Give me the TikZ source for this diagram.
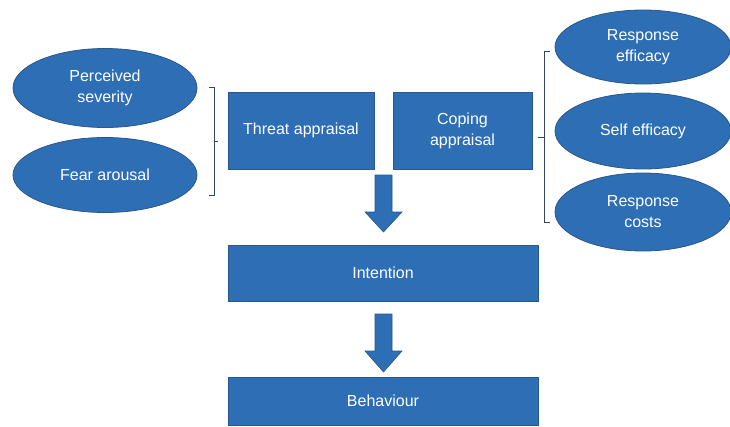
\documentclass[tikz,border=0pt]{standalone}
\usepackage{fontspec}
\setmainfont{Liberation Sans}
\usetikzlibrary{shapes.geometric}
\definecolor{boxblue}{RGB}{46,110,180}
\definecolor{edgeblue}{RGB}{40,88,140}
\definecolor{brk}{RGB}{50,70,100}
\begin{document}
\begin{tikzpicture}[x=1pt,y=-1pt,
  every node/.style={font=\fontsize{16}{21}\selectfont, text=white, align=center, inner sep=0pt},
  blk/.style={rectangle, fill=boxblue, draw=edgeblue, line width=0.8pt},
  ell/.style={ellipse, fill=boxblue, draw=edgeblue, line width=0.8pt},
  brace/.style={draw=brk, line width=0.9pt},
  barrow/.style={fill=boxblue, draw=edgeblue, line width=0.6pt}]
\useasboundingbox (0,0) rectangle (730,426);
% left ellipses
\node[ell, minimum width=184pt, minimum height=79pt] (sev) at (105,88) {Perceived\\severity};
\node[ell, minimum width=184pt, minimum height=75pt] (fear) at (105,175) {Fear arousal};
% right ellipses
\node[ell, minimum width=176pt, minimum height=74pt] (reff) at (643,47) {Response\\efficacy};
\node[ell, minimum width=176pt, minimum height=76pt] (self) at (643,131) {Self efficacy};
\node[ell, minimum width=176pt, minimum height=78pt] (rcost) at (643,212) {Response\\costs};
% boxes
\node[blk, minimum width=146pt, minimum height=77pt] (threat) at (301,130.5) {Threat appraisal};
\node[blk, minimum width=139pt, minimum height=77pt] (coping) at (462.5,130.5) {Coping\\appraisal};
\node[blk, minimum width=310pt, minimum height=56pt] (intent) at (383,273) {Intention};
\node[blk, minimum width=310pt, minimum height=48pt] (behav) at (383,401) {Behaviour};
% brackets
\coordinate (lbt) at (214,87);
\coordinate (lbb) at (214,195);
\path[brace] (209,87) -- (lbt) -- (lbb) -- (209,195);
\path[brace] (214,141) -- (218,141);
\coordinate (rbt) at (544,51);
\coordinate (rbb) at (544,222);
\path[brace] (550,51) -- (rbt) -- (rbb) -- (550,222);
\path[brace] (544,137) -- (538,137);
% block arrows
\path[barrow] (375,175) -- (392,175) -- (392,212) -- (402,212) -- (383.5,232) -- (365,212) -- (375,212) -- cycle;
\path[barrow] (375,314) -- (392,314) -- (392,351) -- (402,351) -- (383.5,372) -- (365,351) -- (375,351) -- cycle;
\end{tikzpicture}
\end{document}
